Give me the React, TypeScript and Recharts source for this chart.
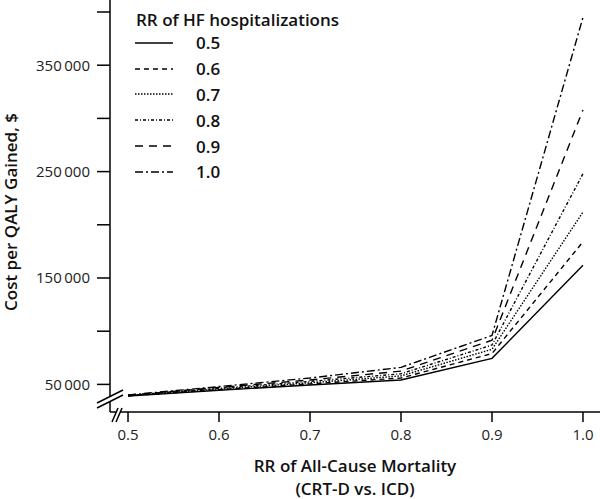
import { CartesianGrid, Label, Legend, Line, LineChart, XAxis, YAxis } from "recharts";

const mortalityRR = [0.5, 0.6, 0.7, 0.8, 0.9, 1.0];

const hf05 = [39000, 44500, 49500, 54100, 74500, 162000];
const hf06 = [39200, 45000, 50500, 56000, 79000, 184000];
const hf07 = [39400, 45700, 51500, 58000, 83000, 212000];
const hf08 = [39600, 46400, 52800, 60000, 87000, 248000];
const hf09 = [39800, 47200, 54200, 62500, 91500, 308000];
const hf10 = [40000, 48000, 56000, 66000, 96000, 395000];

const yTicks = [50000, 100000, 150000, 200000, 250000, 300000, 350000, 400000];
const labelledY = [50000, 150000, 250000, 350000];

const series = [
  { key: "hf05", name: "0.5", values: hf05, dash: undefined },
  { key: "hf06", name: "0.6", values: hf06, dash: "5 4" },
  { key: "hf07", name: "0.7", values: hf07, dash: "1.5 1.5" },
  { key: "hf08", name: "0.8", values: hf08, dash: "3 2 1 2" },
  { key: "hf09", name: "0.9", values: hf09, dash: "8 6" },
  { key: "hf10", name: "1.0", values: hf10, dash: "8 3 2 3" },
];

const data = mortalityRR.map((x, i) => {
  const row: Record<string, number> = { x };
  series.forEach((s) => {
    row[s.key] = s.values[i];
  });
  return row;
});

const FONT = "'Open Sans', sans-serif";
const AXIS_X = 110;
const AXIS_Y = 412;

const fmt = (v: number) =>
  labelledY.includes(v) ? String(v).replace(/(\d+)(\d{3})$/, "$1\u2009$2") : "";

const LegendBox = () => (
  <div style={{ fontFamily: FONT, color: "#111" }}>
    <div style={{ fontSize: 17, fontWeight: 600, height: 21, lineHeight: "21px", marginLeft: 1 }}>
      RR of HF hospitalizations
    </div>
    {series.map((s) => (
      <div key={s.key} style={{ display: "flex", alignItems: "center", height: 25.8 }}>
        <svg width={38} height={6}>
          <line x1={0} y1={3} x2={38} y2={3} stroke="#000" strokeWidth={1.4} strokeDasharray={s.dash} />
        </svg>
        <span style={{ marginLeft: 23, fontSize: 17, fontWeight: 600 }}>{s.name}</span>
      </div>
    ))}
  </div>
);

const XTitle = (props: any) => {
  const { x, y, width } = props.viewBox;
  const cx = x + width / 2;
  return (
    <g fontFamily={FONT} fontSize={17} fontWeight={600} fill="#111" textAnchor="middle">
      <text x={cx} y={y + 60}>RR of All-Cause Mortality</text>
      <text x={cx} y={y + 83}>(CRT-D vs. ICD)</text>
    </g>
  );
};

const YTitle = (props: any) => {
  const { y, height } = props.viewBox;
  const cy = y + height / 2 + 6;
  return (
    <text
      x={17}
      y={cy}
      transform={`rotate(-90 17 ${cy})`}
      fontFamily={FONT}
      fontSize={17}
      fontWeight={600}
      fill="#111"
      textAnchor="middle"
    >
      Cost per QALY Gained, $
    </text>
  );
};

export default function App() {
  return (
    <div style={{ position: "absolute", left: 0, top: 0, width: 600, height: 499, background: "#fff" }}>
      <LineChart width={600} height={499} data={data} margin={{ top: 0, right: 0, bottom: 0, left: 0 }}>
        <CartesianGrid stroke="none" />
        <XAxis
          dataKey="x"
          type="number"
          domain={[0.4802, 1.0187]}
          ticks={mortalityRR}
          allowDataOverflow
          tickFormatter={(v: number) => v.toFixed(1)}
          height={499 - AXIS_Y}
          tickSize={10}
          tickMargin={7}
          axisLine={{ stroke: "#000", strokeWidth: 1.5 }}
          tickLine={{ stroke: "#000", strokeWidth: 1.5 }}
          tick={{ fontFamily: FONT, fontSize: 15, fill: "#222" }}
        >
          <Label content={<XTitle />} />
        </XAxis>
        <YAxis
          type="number"
          domain={[24060, 411280]}
          ticks={yTicks}
          allowDataOverflow
          tickFormatter={fmt}
          width={AXIS_X}
          tickSize={13}
          tickMargin={7}
          axisLine={{ stroke: "#000", strokeWidth: 1.5 }}
          tickLine={{ stroke: "#000", strokeWidth: 1.5 }}
          tick={{ fontFamily: FONT, fontSize: 15, fill: "#222" }}
        >
          <Label content={<YTitle />} />
        </YAxis>
        <Legend
          layout="vertical"
          align="center"
          verticalAlign="middle"
          wrapperStyle={{ top: 9, left: 135, width: 260 }}
          content={<LegendBox />}
        />
        {series.map((s) => (
          <Line
            key={s.key}
            dataKey={s.key}
            name={s.name}
            type="linear"
            stroke="#000"
            strokeWidth={1.4}
            strokeDasharray={s.dash}
            dot={false}
            activeDot={false}
            isAnimationActive={false}
          />
        ))}
      </LineChart>
      <svg
        width={600}
        height={499}
        style={{ position: "absolute", left: 0, top: 0, pointerEvents: "none" }}
      >
        <polygon points={`97,403 123,390 123,395 97,408`} fill="#fff" />
        <line x1={97} y1={403} x2={123} y2={390} stroke="#000" strokeWidth={1.5} />
        <line x1={97} y1={408} x2={123} y2={395} stroke="#000" strokeWidth={1.5} />
        <polygon points={`112,422 118,408 122,408 116,422`} fill="#fff" />
        <line x1={112} y1={422} x2={118} y2={408} stroke="#000" strokeWidth={1.5} />
        <line x1={116} y1={422} x2={122} y2={408} stroke="#000" strokeWidth={1.5} />
      </svg>
    </div>
  );
}
